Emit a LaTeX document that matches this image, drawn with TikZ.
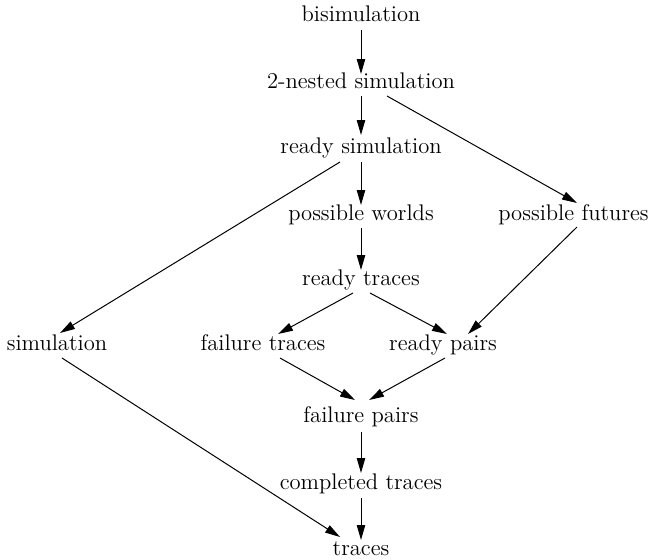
\documentclass[tikz,border=0pt]{standalone}
\usetikzlibrary{arrows.meta,calc}
\begin{document}
\begin{tikzpicture}[x=0.5pt,y=-0.5pt,
  lbl/.style={inner sep=0pt,anchor=base,font=\fontsize{11.3}{13.5}\selectfont},
  arr/.style={-{Triangle[length=7.5pt,width=4.2pt]},line width=0.5pt,black}]
\useasboundingbox (0,0) rectangle (649,559);
\clip (0,0) rectangle (649,559);
\node[lbl] (bisim) at (361,21) {bisimulation};
\node[lbl] (nested) at (361,88) {2-nested simulation};
\node[lbl] (rsim) at (361,153) {ready simulation};
\node[lbl] (pworlds) at (361,220) {possible worlds};
\node[lbl] (futures) at (573.5,220) {possible futures};
\node[lbl] (rtraces) at (361,285) {ready traces};
\node[lbl] (sim) at (57,350) {simulation};
\node[lbl] (ftraces) at (263,350) {failure traces};
\node[lbl] (rpairs) at (443,350) {ready pairs};
\node[lbl] (fpairs) at (361,422) {failure pairs};
\node[lbl] (ctraces) at (361,489) {completed traces};
\node[lbl] (traces) at (361,555) {traces};
\draw[arr] ($(bisim.base)+(0,9)$) -- ($(nested.base)+(0,-14)$);
\draw[arr] ($(nested.base)+(0,8)$) -- ($(rsim.base)+(0,-18)$);
\draw[arr] ($(nested.base)+(26,8)$) -- ($(futures.base)+(3.5,-17)$);
\draw[arr] ($(rsim.base)+(0,9)$) -- ($(pworlds.base)+(0,-15)$);
\draw[arr] ($(rsim.base)+(-21,9)$) -- ($(sim.base)+(3,-17)$);
\draw[arr] ($(pworlds.base)+(0,8)$) -- ($(rtraces.base)+(0,-15)$);
\draw[arr] ($(futures.base)+(3.5,7)$) -- ($(rpairs.base)+(25,-16)$);
\draw[arr] ($(rtraces.base)+(-8,8)$) -- ($(ftraces.base)+(15,-16)$);
\draw[arr] ($(rtraces.base)+(9,8)$) -- ($(rpairs.base)+(4,-16)$);
\draw[arr] ($(sim.base)+(5,8)$) -- ($(traces.base)+(-21,-18)$);
\draw[arr] ($(ftraces.base)+(17,8)$) -- ($(fpairs.base)+(-6,-22)$);
\draw[arr] ($(rpairs.base)+(2,8)$) -- ($(fpairs.base)+(8,-22)$);
\draw[arr] ($(fpairs.base)+(0,10)$) -- ($(ctraces.base)+(0,-16)$);
\draw[arr] ($(ctraces.base)+(0,9)$) -- ($(traces.base)+(0,-15)$);
\end{tikzpicture}
\end{document}
